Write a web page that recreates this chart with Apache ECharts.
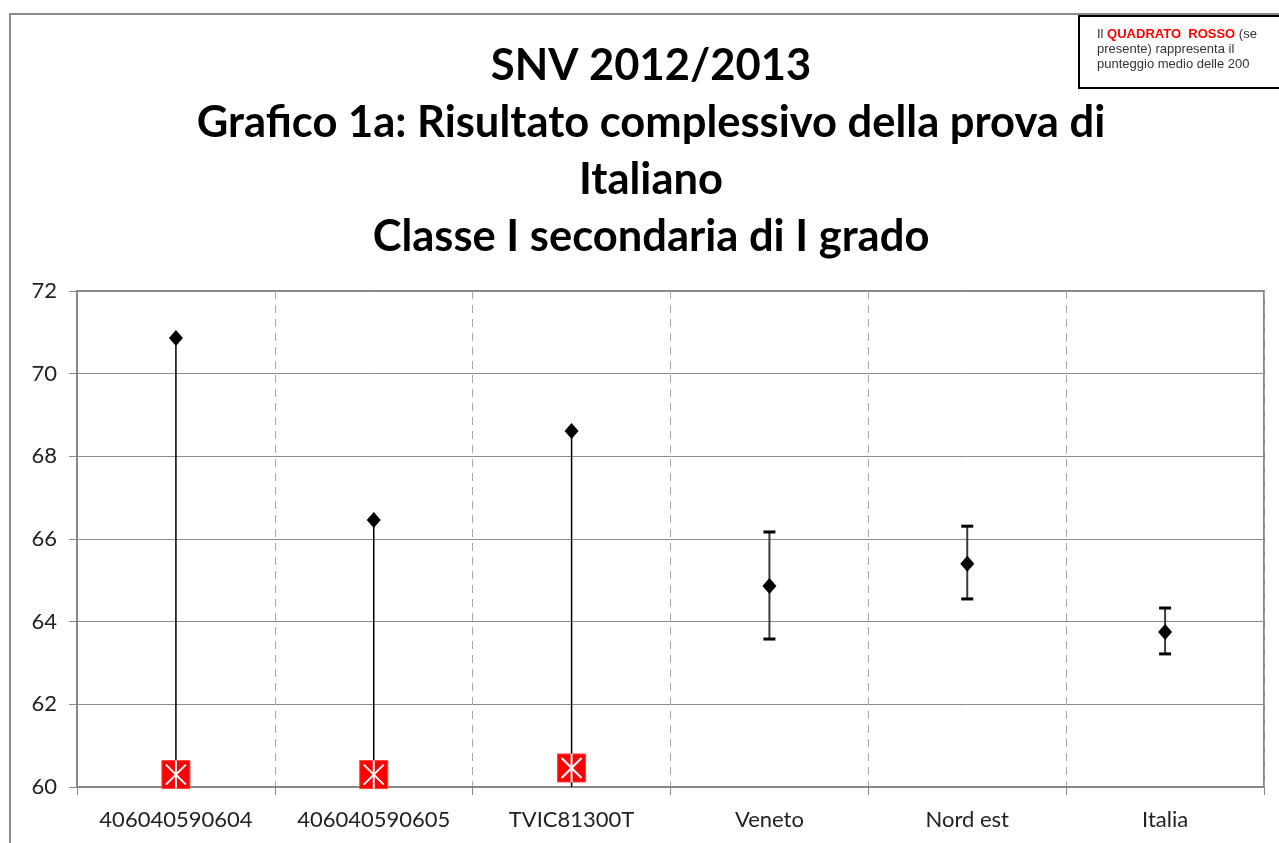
<!DOCTYPE html>
<html>
<head>
<meta charset="utf-8">
<script src="https://cdn.jsdelivr.net/npm/echarts@6/dist/echarts.min.js"></script>
<style>
html,body{margin:0;padding:0;background:#fff;}
#chart{width:1279px;height:843px;}
</style>
</head>
<body>
<div id="chart"></div>
<script>
// ---- data ----
const categories = ['406040590604', '406040590605', 'TVIC81300T', 'Veneto', 'Nord est', 'Italia'];
const means      = [70.86, 66.46, 68.61, 64.86, 65.40, 63.75];
const errLow     = [60.00, 60.00, 60.00, 63.58, 64.55, 63.22];
const errHigh    = [70.86, 66.46, 68.61, 66.17, 66.31, 64.33];
const schoolAvg  = [60.30, 60.30, 60.46, null, null, null]; // red squares
const yTicks     = [60, 62, 64, 66, 68, 70, 72];
const titleLines = ['SNV 2012/2013', 'Grafico 1a: Risultato complessivo della prova di', 'Italiano', 'Classe I secondaria di I grado'];

const chart = echarts.init(document.getElementById('chart'));

const errData = categories.map((c, i) => [i, errLow[i], errHigh[i], schoolAvg[i] == null ? 1 : 0]);
const meanData = categories.map((c, i) => [i, means[i]]);
const sqData = categories.map((c, i) => schoolAvg[i] == null ? null : [i, schoolAvg[i]]).filter(d => d);

const option = {
  animation: false,
  backgroundColor: '#fff',
  graphic: [
    { type: 'rect', shape: { x: 10, y: 14, width: 1400, height: 1000 }, style: { fill: 'none', stroke: '#8a8a8a', lineWidth: 2 }, z: 0 },
    { type: 'text', x: 651, y: 37, z: 10,
      style: { text: titleLines.join('\n'), textAlign: 'center', fill: '#000',
               font: 'bold 43.5px Lato', lineHeight: 57 } },
    { type: 'rect', shape: { x: 1079, y: 16, width: 220, height: 72 }, style: { fill: '#fff', stroke: '#000', lineWidth: 2 }, z: 10 },
    { type: 'text', x: 1097, y: 27, z: 11,
      style: {
        text: '{a|Il }{r|QUADRATO  ROSSO}{a| (se}\n{a|presente) rappresenta il}\n{a|punteggio medio delle 200}',
        rich: {
          a: { fill: '#333', font: '13px "Liberation Sans"', lineHeight: 15 },
          r: { fill: '#ff0000', font: 'bold 13px "Liberation Sans"', lineHeight: 15 }
        }
      } }
  ],
  grid: {
    left: 77, right: 15, top: 291, bottom: 56,
    show: true, borderColor: '#888', borderWidth: 2, backgroundColor: '#fff'
  },
  xAxis: {
    type: 'category',
    data: categories,
    boundaryGap: true,
    axisLine: { show: true, lineStyle: { color: '#888', width: 2 } },
    axisTick: { show: true, interval: 0, length: 8, lineStyle: { color: '#888', width: 1 } },
    axisLabel: { interval: 0, color: '#222', fontFamily: 'Lato', fontSize: 22, margin: 22 },
    splitLine: { show: true, interval: 0, lineStyle: { color: '#a6a6a6', type: [8, 6], width: 1 } }
  },
  yAxis: {
    type: 'value',
    min: 60, max: 72, interval: 2,
    axisLine: { show: true, lineStyle: { color: '#888', width: 2 } },
    axisTick: { show: true, length: 8, lineStyle: { color: '#888', width: 1 } },
    axisLabel: { color: '#222', fontFamily: 'Lato', fontSize: 22, margin: 20,
                 formatter: v => yTicks.indexOf(v) >= 0 ? String(v) : '' },
    splitLine: { show: true, lineStyle: { color: '#8c8c8c', width: 1 } }
  },
  series: [
    {
      type: 'custom',
      data: errData,
      z: 2,
      renderItem: function (params, api) {
        const x = api.value(0);
        const lo = api.coord([x, api.value(1)]);
        const hi = api.coord([x, api.value(2)]);
        const caps = api.value(3) === 1;
        const children = [{
          type: 'line',
          shape: { x1: lo[0], y1: lo[1], x2: hi[0], y2: hi[1] },
          style: { stroke: caps ? '#3a3a3a' : '#000', lineWidth: caps ? 2 : 1.5 }
        }];
        if (caps) {
          const w = 6;
          children.push({ type: 'line', shape: { x1: hi[0] - w, y1: hi[1], x2: hi[0] + w, y2: hi[1] }, style: { stroke: '#000', lineWidth: 3 } });
          children.push({ type: 'line', shape: { x1: lo[0] - w, y1: lo[1], x2: lo[0] + w, y2: lo[1] }, style: { stroke: '#000', lineWidth: 3 } });
        }
        return { type: 'group', children: children };
      }
    },
    {
      type: 'scatter',
      data: meanData,
      symbol: 'diamond',
      symbolSize: [14, 16],
      itemStyle: { color: '#000', opacity: 1 },
      z: 4
    },
    {
      type: 'custom',
      data: sqData,
      z: 5,
      renderItem: function (params, api) {
        const p = api.coord([api.value(0), api.value(1)]);
        const h = 14, a = 10;
        const st = { stroke: '#fff', lineWidth: 2 };
        return {
          type: 'group',
          children: [
            { type: 'rect', shape: { x: p[0] - h, y: p[1] - h, width: 2 * h, height: 2 * h }, style: { fill: '#ff0000', stroke: '#ff4040', lineWidth: 1 } },
            { type: 'line', shape: { x1: p[0], y1: p[1] - h, x2: p[0], y2: p[1] + h }, style: st },
            { type: 'line', shape: { x1: p[0] - a, y1: p[1] - a, x2: p[0] + a, y2: p[1] + a }, style: st },
            { type: 'line', shape: { x1: p[0] - a, y1: p[1] + a, x2: p[0] + a, y2: p[1] - a }, style: st }
          ]
        };
      }
    }
  ]
};
chart.setOption(option);
</script>
</body>
</html>
